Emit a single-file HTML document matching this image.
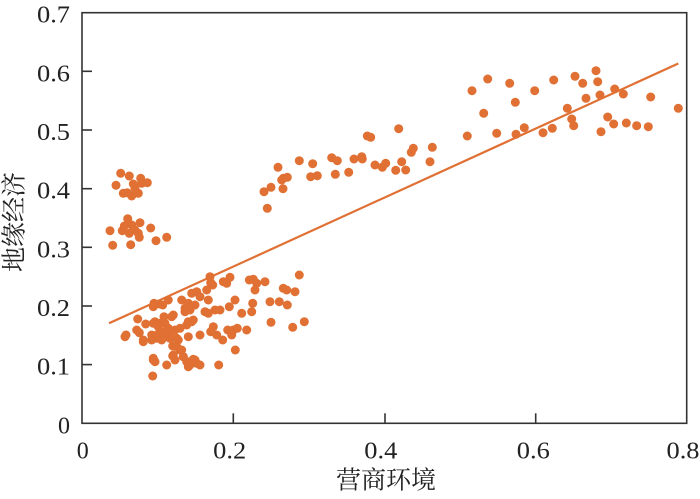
<!DOCTYPE html>
<html><head><meta charset="utf-8"><style>
html,body{margin:0;padding:0;background:#fff;}
svg{display:block;}
.t{font-family:"Liberation Serif",serif;font-size:24px;fill:#222;}
.c{font-family:"Liberation Serif","Noto Serif CJK SC",serif;font-size:25px;fill:#222;}
</style></head><body>
<svg width="700" height="499" viewBox="0 0 700 499" xmlns="http://www.w3.org/2000/svg">
<rect width="700" height="499" fill="#fff"/>
<g fill="#E07033">
<!-- left clusters -->
<circle cx="120.7" cy="173.3" r="4.5"/><circle cx="129.3" cy="176" r="4.5"/><circle cx="116" cy="185.3" r="4.5"/><circle cx="133.3" cy="184" r="4.5"/><circle cx="140.7" cy="178.3" r="4.5"/><circle cx="141.7" cy="183.3" r="4.5"/><circle cx="147.3" cy="182.7" r="4.5"/><circle cx="123.3" cy="193.3" r="4.5"/><circle cx="127.3" cy="192.7" r="4.5"/><circle cx="131.7" cy="196" r="4.5"/><circle cx="138.3" cy="193.3" r="4.5"/><circle cx="135" cy="188.3" r="4.5"/>
<circle cx="127.7" cy="218.7" r="4.5"/><circle cx="110" cy="230.7" r="4.5"/><circle cx="122.3" cy="230.7" r="4.5"/><circle cx="124.3" cy="226" r="4.5"/><circle cx="131.7" cy="225" r="4.5"/><circle cx="140" cy="222.7" r="4.5"/><circle cx="135" cy="230" r="4.5"/><circle cx="129.3" cy="233.3" r="4.5"/><circle cx="138.3" cy="233.3" r="4.5"/><circle cx="139.3" cy="237.3" r="4.5"/><circle cx="150.7" cy="228" r="4.5"/><circle cx="156" cy="240.7" r="4.5"/><circle cx="166.7" cy="237.3" r="4.5"/><circle cx="112.7" cy="245.3" r="4.5"/><circle cx="130.7" cy="244.7" r="4.5"/>
<!-- middle band -->
<circle cx="264" cy="191.7" r="4.5"/><circle cx="271" cy="187.3" r="4.5"/><circle cx="267.3" cy="208.3" r="4.5"/><circle cx="278" cy="167.3" r="4.5"/><circle cx="281.7" cy="180" r="4.5"/><circle cx="283.3" cy="178.3" r="4.5"/><circle cx="287.3" cy="177.3" r="4.5"/><circle cx="283" cy="188.7" r="4.5"/><circle cx="299.3" cy="160.7" r="4.5"/><circle cx="312.7" cy="163.7" r="4.5"/><circle cx="310.7" cy="176.7" r="4.5"/><circle cx="317.3" cy="175.7" r="4.5"/><circle cx="331.7" cy="157.7" r="4.5"/><circle cx="337.3" cy="160.7" r="4.5"/><circle cx="335.3" cy="174.3" r="4.5"/><circle cx="348.7" cy="172.3" r="4.5"/><circle cx="354" cy="159" r="4.5"/><circle cx="361.7" cy="156.7" r="4.5"/><circle cx="362.3" cy="159" r="4.5"/><circle cx="367.3" cy="136" r="4.5"/><circle cx="370.7" cy="137.3" r="4.5"/><circle cx="375" cy="165" r="4.5"/><circle cx="382.3" cy="167.3" r="4.5"/><circle cx="385.7" cy="163.3" r="4.5"/><circle cx="398.7" cy="128.7" r="4.5"/><circle cx="401.7" cy="161.7" r="4.5"/><circle cx="395.7" cy="170.3" r="4.5"/><circle cx="405.7" cy="170" r="4.5"/><circle cx="411.3" cy="152.3" r="4.5"/><circle cx="413.3" cy="148.3" r="4.5"/><circle cx="432.3" cy="147.3" r="4.5"/><circle cx="430" cy="161.7" r="4.5"/>
<!-- upper right -->
<circle cx="467.3" cy="136" r="4.5"/><circle cx="472" cy="90.7" r="4.5"/><circle cx="483.7" cy="113.3" r="4.5"/><circle cx="487.7" cy="79" r="4.5"/><circle cx="496.7" cy="133.3" r="4.5"/><circle cx="509.7" cy="83.3" r="4.5"/><circle cx="515.3" cy="102.3" r="4.5"/><circle cx="516" cy="134.3" r="4.5"/><circle cx="524.3" cy="127.7" r="4.5"/><circle cx="534.7" cy="90.7" r="4.5"/><circle cx="543" cy="132.7" r="4.5"/><circle cx="552.3" cy="128.3" r="4.5"/><circle cx="553.7" cy="80" r="4.5"/><circle cx="567.3" cy="108.3" r="4.5"/><circle cx="571.7" cy="119" r="4.5"/><circle cx="573.7" cy="125.7" r="4.5"/><circle cx="575" cy="76.3" r="4.5"/><circle cx="582.7" cy="83.3" r="4.5"/><circle cx="586" cy="98.3" r="4.5"/><circle cx="596" cy="70.7" r="4.5"/><circle cx="597.7" cy="81.7" r="4.5"/><circle cx="600" cy="95" r="4.5"/><circle cx="601" cy="131.7" r="4.5"/><circle cx="607.7" cy="117" r="4.5"/><circle cx="613.7" cy="124" r="4.5"/><circle cx="614.7" cy="89" r="4.5"/><circle cx="623.3" cy="94" r="4.5"/><circle cx="626.3" cy="123" r="4.5"/><circle cx="636.7" cy="125.7" r="4.5"/><circle cx="648.3" cy="126.7" r="4.5"/><circle cx="650.7" cy="97" r="4.5"/><circle cx="678.3" cy="108.3" r="4.5"/>
<!-- lower cluster -->
<circle cx="126" cy="335" r="4.5"/><circle cx="125" cy="336.7" r="4.5"/><circle cx="137.7" cy="319" r="4.5"/><circle cx="136.7" cy="330" r="4.5"/><circle cx="139.3" cy="332.7" r="4.5"/><circle cx="145.7" cy="324" r="4.5"/><circle cx="143.3" cy="341.7" r="4.5"/><circle cx="154" cy="303.3" r="4.5"/><circle cx="159.3" cy="304" r="4.5"/><circle cx="162.7" cy="305" r="4.5"/><circle cx="168.3" cy="300" r="4.5"/><circle cx="155" cy="321.7" r="4.5"/><circle cx="160" cy="323.3" r="4.5"/><circle cx="164" cy="316.7" r="4.5"/><circle cx="173.3" cy="315" r="4.5"/><circle cx="168.3" cy="328.3" r="4.5"/><circle cx="163.3" cy="333.3" r="4.5"/><circle cx="166.7" cy="336.7" r="4.5"/><circle cx="170.7" cy="331.7" r="4.5"/><circle cx="175" cy="330" r="4.5"/><circle cx="176.7" cy="338.3" r="4.5"/><circle cx="151.7" cy="335" r="4.5"/><circle cx="156.7" cy="338.3" r="4.5"/><circle cx="161.7" cy="340" r="4.5"/><circle cx="172.7" cy="346" r="4.5"/><circle cx="180" cy="350" r="4.5"/><circle cx="153.3" cy="358.3" r="4.5"/><circle cx="155" cy="361.7" r="4.5"/><circle cx="166.7" cy="365" r="4.5"/><circle cx="172.7" cy="356" r="4.5"/><circle cx="175" cy="360" r="4.5"/><circle cx="152.7" cy="376" r="4.5"/>
<circle cx="153.3" cy="323.3" r="4.5"/><circle cx="158.3" cy="326.7" r="4.5"/><circle cx="165" cy="323.3" r="4.5"/><circle cx="171.7" cy="316.7" r="4.5"/><circle cx="161.7" cy="331.7" r="4.5"/><circle cx="168.3" cy="331.7" r="4.5"/><circle cx="165" cy="336.7" r="4.5"/><circle cx="170" cy="338.3" r="4.5"/><circle cx="156.7" cy="335" r="4.5"/><circle cx="151.7" cy="340" r="4.5"/><circle cx="178.3" cy="340" r="4.5"/><circle cx="180" cy="328.3" r="4.5"/><circle cx="186.7" cy="325" r="4.5"/><circle cx="191.7" cy="321.7" r="4.5"/><circle cx="188.3" cy="336.7" r="4.5"/><circle cx="176.7" cy="346.7" r="4.5"/><circle cx="181.7" cy="350" r="4.5"/><circle cx="153.3" cy="360" r="4.5"/><circle cx="173.3" cy="355" r="4.5"/><circle cx="183.3" cy="356.7" r="4.5"/><circle cx="190" cy="361.7" r="4.5"/><circle cx="195" cy="360" r="4.5"/><circle cx="188.3" cy="366.7" r="4.5"/><circle cx="153.3" cy="306.7" r="4.5"/><circle cx="143.3" cy="340" r="4.5"/>
<circle cx="181.7" cy="300" r="4.5"/><circle cx="185" cy="308.3" r="4.5"/><circle cx="188.3" cy="303.3" r="4.5"/><circle cx="190" cy="310" r="4.5"/><circle cx="195" cy="305" r="4.5"/><circle cx="196.7" cy="291.7" r="4.5"/><circle cx="200" cy="296.7" r="4.5"/><circle cx="191.7" cy="293.3" r="4.5"/><circle cx="185" cy="311.7" r="4.5"/><circle cx="188.3" cy="321.7" r="4.5"/><circle cx="193.3" cy="320" r="4.5"/><circle cx="200" cy="335" r="4.5"/><circle cx="183.3" cy="356.7" r="4.5"/><circle cx="186.7" cy="361.7" r="4.5"/><circle cx="190" cy="365" r="4.5"/><circle cx="193.3" cy="359.3" r="4.5"/><circle cx="196.7" cy="363.3" r="4.5"/><circle cx="200" cy="365" r="4.5"/>
<circle cx="206.7" cy="290" r="4.5"/><circle cx="210" cy="276.7" r="4.5"/><circle cx="212.7" cy="285" r="4.5"/><circle cx="210.7" cy="282.7" r="4.5"/><circle cx="208.3" cy="300" r="4.5"/><circle cx="205" cy="311.7" r="4.5"/><circle cx="208.3" cy="313.3" r="4.5"/><circle cx="213.3" cy="326.7" r="4.5"/><circle cx="210.7" cy="331.7" r="4.5"/><circle cx="216.7" cy="335" r="4.5"/><circle cx="222.7" cy="340" r="4.5"/><circle cx="218.7" cy="365" r="4.5"/><circle cx="215" cy="310" r="4.5"/><circle cx="220" cy="310" r="4.5"/><circle cx="223.3" cy="281.7" r="4.5"/><circle cx="230" cy="277.3" r="4.5"/><circle cx="226.7" cy="283.3" r="4.5"/><circle cx="229.3" cy="306.7" r="4.5"/><circle cx="235" cy="300" r="4.5"/><circle cx="227.7" cy="330" r="4.5"/><circle cx="231.7" cy="335" r="4.5"/><circle cx="233.3" cy="330" r="4.5"/><circle cx="237.3" cy="328.3" r="4.5"/><circle cx="241.7" cy="313.3" r="4.5"/><circle cx="246.7" cy="330" r="4.5"/><circle cx="235.3" cy="350" r="4.5"/>
<circle cx="249.3" cy="280" r="4.5"/><circle cx="253.3" cy="279.3" r="4.5"/><circle cx="256.7" cy="283.3" r="4.5"/><circle cx="265" cy="281.7" r="4.5"/><circle cx="255" cy="290" r="4.5"/><circle cx="252.7" cy="303.3" r="4.5"/><circle cx="251.7" cy="311.7" r="4.5"/><circle cx="270" cy="301.7" r="4.5"/><circle cx="279.3" cy="301.7" r="4.5"/><circle cx="287.3" cy="305" r="4.5"/><circle cx="283.3" cy="288.3" r="4.5"/><circle cx="286.7" cy="290" r="4.5"/><circle cx="295" cy="291.7" r="4.5"/><circle cx="299.3" cy="275" r="4.5"/><circle cx="271" cy="322.3" r="4.5"/><circle cx="292.7" cy="327.3" r="4.5"/><circle cx="304.3" cy="321.7" r="4.5"/>
</g>
<line x1="109" y1="323.3" x2="678.3" y2="63.5" stroke="#E07033" stroke-width="2.2"/>
<g stroke="#333" stroke-width="1.6" fill="none">
<rect x="82" y="12.7" width="604.7" height="410.6"/>
<line x1="82" y1="364.6" x2="92" y2="364.6"/>
<line x1="82" y1="306" x2="92" y2="306"/>
<line x1="82" y1="247.3" x2="92" y2="247.3"/>
<line x1="82" y1="188.7" x2="92" y2="188.7"/>
<line x1="82" y1="130" x2="92" y2="130"/>
<line x1="82" y1="71.3" x2="92" y2="71.3"/>
<line x1="233.3" y1="423.3" x2="233.3" y2="413.3"/>
<line x1="385" y1="423.3" x2="385" y2="413.3"/>
<line x1="535.7" y1="423.3" x2="535.7" y2="413.3"/>
</g>
<g class="t" text-anchor="end">
<text x="70" y="433.3">0</text>
<text x="70" y="374.6" textLength="33" lengthAdjust="spacingAndGlyphs">0.1</text>
<text x="70" y="316" textLength="33" lengthAdjust="spacingAndGlyphs">0.2</text>
<text x="70" y="257.3" textLength="33" lengthAdjust="spacingAndGlyphs">0.3</text>
<text x="70" y="198.7" textLength="33" lengthAdjust="spacingAndGlyphs">0.4</text>
<text x="70" y="140" textLength="33" lengthAdjust="spacingAndGlyphs">0.5</text>
<text x="70" y="81.3" textLength="33" lengthAdjust="spacingAndGlyphs">0.6</text>
<text x="70" y="22.7" textLength="33" lengthAdjust="spacingAndGlyphs">0.7</text>
</g>
<g class="t" text-anchor="middle">
<text x="82.7" y="458.5">0</text>
<text x="229.7" y="458.5" textLength="33" lengthAdjust="spacingAndGlyphs">0.2</text>
<text x="380.8" y="458.5" textLength="33" lengthAdjust="spacingAndGlyphs">0.4</text>
<text x="533.3" y="458.5" textLength="33" lengthAdjust="spacingAndGlyphs">0.6</text>
<text x="683" y="458.5" textLength="33" lengthAdjust="spacingAndGlyphs">0.8</text>
</g>
<text class="c" x="386" y="488.5" text-anchor="middle">营商环境</text>
<text class="c" x="0" y="0" text-anchor="middle" transform="translate(22.5,222) rotate(-90)">地缘经济</text>
</svg>
</body></html>
